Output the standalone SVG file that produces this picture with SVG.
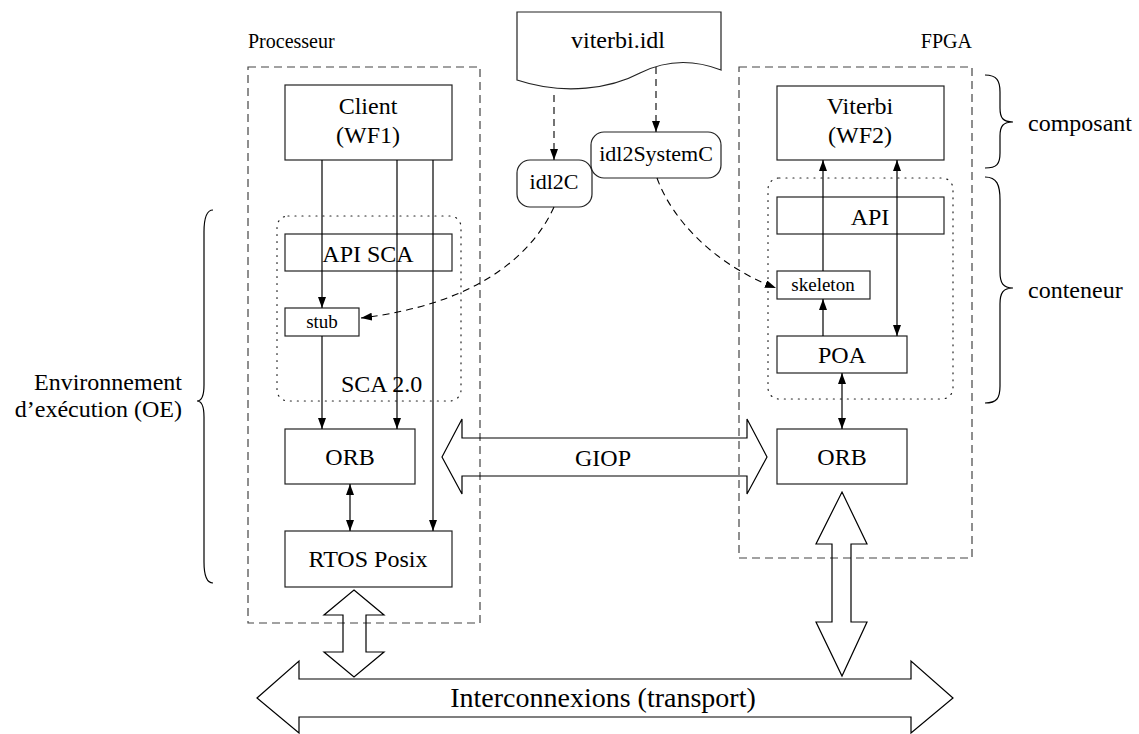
<svg xmlns="http://www.w3.org/2000/svg" width="1139" height="734" viewBox="0 0 1139 734">
<style>
text{font-family:"Liberation Serif","Times New Roman",serif;fill:#000}
.t24{font-size:24px}
.t22{font-size:22px}
.t19{font-size:19px}
.t20{font-size:20px}
.mid{text-anchor:middle}
.box{fill:none;stroke:#222;stroke-width:1.2}
.dash{fill:none;stroke:#444;stroke-width:1.2;stroke-dasharray:8,5}
.dot{fill:none;stroke:#222;stroke-width:1.2;stroke-dasharray:1,6;stroke-linecap:round}
.ln{fill:none;stroke:#000;stroke-width:1.2}
.dln{fill:none;stroke:#000;stroke-width:1.1;stroke-dasharray:7,5}
.fat{fill:none;stroke:#000;stroke-width:1.2;stroke-linejoin:miter}
.brace{fill:none;stroke:#000;stroke-width:1.2}
</style>
<defs>
<marker id="ah" viewBox="0 0 11 8" refX="11" refY="4" markerWidth="11" markerHeight="8" orient="auto-start-reverse" markerUnits="userSpaceOnUse">
<path d="M0,0 L11,4 L0,8 z" fill="#000"/>
</marker>
</defs>

<g id="processeur">
<rect class="dash" x="248" y="67" width="232" height="556"/>
<text class="t20" x="248" y="48">Processeur</text>
</g>
<g id="fpga">
<rect class="dash" x="739" y="67" width="233" height="491"/>
<text class="t20" x="972" y="48" text-anchor="end">FPGA</text>
</g>
<g id="sca">
<rect class="dot" x="277" y="216" width="184" height="185" rx="11"/>
<text class="t24" x="341" y="392">SCA 2.0</text>
</g>
<g id="container">
<rect class="dot" x="768" y="178" width="185" height="221" rx="11"/>
</g>

<g id="viterbi-idl">
<path class="box" d="M517,12 H721 V70 C 690,58 662,62 640,73 C 612,88 565,96 517,80 Z"/>
<text class="t24 mid" x="618" y="48">viterbi.idl</text>
</g>
<g id="idl2c">
<rect class="box" x="517" y="160" width="75" height="47" rx="13"/>
<text class="t22 mid" x="554" y="189">idl2C</text>
</g>
<g id="idl2systemc">
<rect class="box" x="591" y="132" width="130" height="46" rx="13"/>
<text class="t22 mid" x="656" y="161">idl2SystemC</text>
</g>

<g id="client">
<rect class="box" x="285" y="85" width="167" height="75"/>
<text class="t24 mid" x="368" y="114">Client</text>
<text class="t24 mid" x="368" y="143">(WF1)</text>
</g>
<g id="api-sca">
<rect class="box" x="285" y="234" width="167" height="37"/>
<text class="t24 mid" x="368" y="262">API SCA</text>
</g>
<g id="stub">
<rect class="box" x="285" y="308" width="74" height="28"/>
<text class="t19 mid" x="322" y="328">stub</text>
</g>
<g id="orb-left">
<rect class="box" x="285" y="429" width="130" height="55"/>
<text class="t24 mid" x="350" y="465">ORB</text>
</g>
<g id="rtos">
<rect class="box" x="285" y="531" width="167" height="56"/>
<text class="t24 mid" x="368" y="567">RTOS Posix</text>
</g>

<g id="viterbi">
<rect class="box" x="777" y="86" width="167" height="74"/>
<text class="t24 mid" x="860" y="114">Viterbi</text>
<text class="t24 mid" x="860" y="143">(WF2)</text>
</g>
<g id="api">
<rect class="box" x="777" y="197" width="167" height="37"/>
<text class="t24 mid" x="870" y="225">API</text>
</g>
<g id="skeleton">
<rect class="box" x="777" y="271" width="93" height="28"/>
<text class="t19 mid" x="823" y="291">skeleton</text>
</g>
<g id="poa">
<rect class="box" x="777" y="336" width="130" height="37"/>
<text class="t24 mid" x="842" y="363">POA</text>
</g>
<g id="orb-right">
<rect class="box" x="777" y="429" width="130" height="55"/>
<text class="t24 mid" x="842" y="465">ORB</text>
</g>

<g id="connectors">
<line class="ln" x1="322" y1="160" x2="322" y2="308" marker-end="url(#ah)"/>
<line class="ln" x1="322" y1="336" x2="322" y2="429" marker-end="url(#ah)"/>
<line class="ln" x1="397" y1="160" x2="397" y2="429" marker-end="url(#ah)"/>
<line class="ln" x1="433" y1="160" x2="433" y2="531" marker-end="url(#ah)"/>
<line class="ln" x1="350" y1="484" x2="350" y2="531" marker-start="url(#ah)" marker-end="url(#ah)"/>
<line class="ln" x1="823" y1="271" x2="823" y2="160" marker-end="url(#ah)"/>
<line class="ln" x1="823" y1="336" x2="823" y2="299" marker-end="url(#ah)"/>
<line class="ln" x1="897" y1="160" x2="897" y2="336" marker-start="url(#ah)" marker-end="url(#ah)"/>
<line class="ln" x1="842" y1="373" x2="842" y2="429" marker-start="url(#ah)" marker-end="url(#ah)"/>
<line class="dln" x1="554" y1="95" x2="554" y2="160" marker-end="url(#ah)"/>
<line class="dln" x1="656" y1="67" x2="656" y2="132" marker-end="url(#ah)"/>
<path class="dln" d="M554,207 C 530,260 470,305 361,318" marker-end="url(#ah)"/>
<path class="dln" d="M657,178 C 672,220 715,265 776,288" marker-end="url(#ah)"/>
<path class="fat" d="M442,457 L462,419 L462,438 L747,438 L747,419 L767,457 L747,494 L747,476 L462,476 L462,494 Z"/>
<text class="t24 mid" x="603" y="466">GIOP</text>
<path class="fat" d="M354,590 L384,615 L366,615 L366,652 L384,652 L354,677 L324,652 L343,652 L343,615 L324,615 Z"/>
<path class="fat" d="M842,492 L867,544 L851,544 L851,622 L867,622 L842,676 L816,622 L832,622 L832,544 L816,544 Z"/>
<path class="fat" d="M257,698 L299,661 L299,679 L911,679 L911,661 L953,698 L911,733 L911,717 L299,717 L299,733 Z"/>
<text class="mid" style="font-size:28px" x="603" y="707">Interconnexions (transport)</text>
</g>

<g id="brace-composant">
<path class="brace" d="M985,75 C 997,75 1000,81 1000,92 L1000,108 C 1000,118 1003,122 1013,122 C 1003,122 1000,126 1000,136 L1000,153 C 1000,164 997,168 985,168"/>
<text class="t24" x="1028" y="131">composant</text>
</g>
<g id="brace-conteneur">
<path class="brace" d="M985,177 C 997,177 1000,185 1000,200 L1000,272 C 1000,283 1003,288 1013,288 C 1003,288 1000,293 1000,304 L1000,386 C 1000,398 997,403 985,403"/>
<text class="t24" x="1028" y="298">conteneur</text>
</g>
<g id="brace-oe">
<path class="brace" d="M213,210 C 207,210 204,218 204,232 L204,385 C 204,396 202,401 197,401 C 202,401 204,406 204,417 L204,562 C 204,576 207,583 213,583"/>
<text class="t24" x="182" y="390" text-anchor="end">Environnement</text>
<text class="t24" x="182" y="417" text-anchor="end">d’exécution (OE)</text>
</g>
</svg>
